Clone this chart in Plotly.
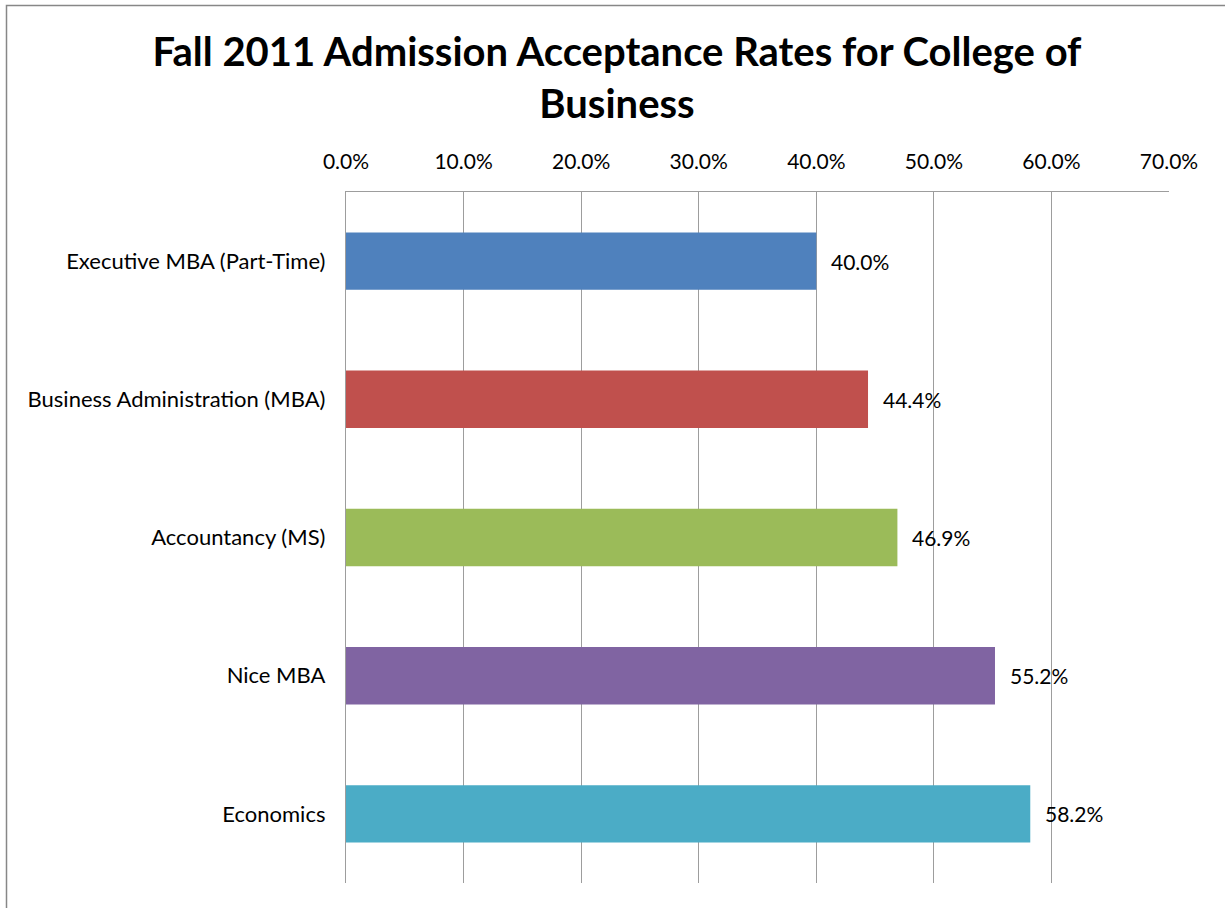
import plotly.graph_objects as go

categories = ["Executive MBA (Part-Time)", "Business Administration (MBA)",
              "Accountancy (MS)", "Nice MBA", "Economics"]
rates = [0.400, 0.444, 0.469, 0.552, 0.582]
colors = ["#4F81BD", "#C0504D", "#9BBB59", "#8064A2", "#4BACC6"]
tick_vals = [0.0, 0.1, 0.2, 0.3, 0.4, 0.5, 0.6, 0.7]
tick_text = ["0.0%", "10.0%", "20.0%", "30.0%", "40.0%", "50.0%", "60.0%", "70.0%"]
title_text = "Fall 2011 Admission Acceptance Rates for College of<br>Business"

FONT = "Lato"
GRID = "#9D9D9D"
FS = 21

fig = go.Figure()
fig.add_trace(go.Bar(
    y=categories, x=rates, orientation="h",
    marker=dict(color=colors, line=dict(width=0)),
    width=0.415,
    hoverinfo="skip",
))

for c, v in zip(categories, rates):
    fig.add_annotation(x=v, y=c, xref="x", yref="y", text=f"{v*100:.1f}%",
                       showarrow=False, xanchor="left", xshift=13,
                       font=dict(family=FONT, size=FS, color="#000000"))

fig.update_layout(
    width=1225, height=908,
    margin=dict(l=346, r=56, t=192, b=25),
    paper_bgcolor="white", plot_bgcolor="white",
    showlegend=False,
    title=dict(text=title_text, x=617/1225, xref="container", xanchor="center",
               y=1 - 66/908, yref="container", yanchor="middle",
               font=dict(family=FONT, size=40, color="#000000", weight="bold")),
    xaxis=dict(range=[0, 0.7], side="top", tickvals=tick_vals, ticktext=tick_text,
               showgrid=True, gridcolor=GRID, gridwidth=1.3,
               showline=True, linecolor=GRID, linewidth=1.3, mirror=False,
               zeroline=False, ticks="", ticklabelstandoff=13,
               tickfont=dict(family=FONT, size=FS, color="#000000"), fixedrange=True),
    yaxis=dict(autorange="reversed", showgrid=False, showline=True, linecolor=GRID,
               linewidth=1.3, zeroline=False,
               ticks="", ticklabelstandoff=15,
               tickfont=dict(family=FONT, size=22, color="#000000"), fixedrange=True),
    shapes=[dict(type="rect", xref="paper", yref="paper",
                 x0=(6.5 - 346) / 823, x1=(1240 - 346) / 823,
                 y0=(883 - 930) / 691, y1=(883 - 5.5) / 691,
                 line=dict(color="#878787", width=1.5), fillcolor="rgba(0,0,0,0)", layer="below")],
)

fig.write_html("out.html")
